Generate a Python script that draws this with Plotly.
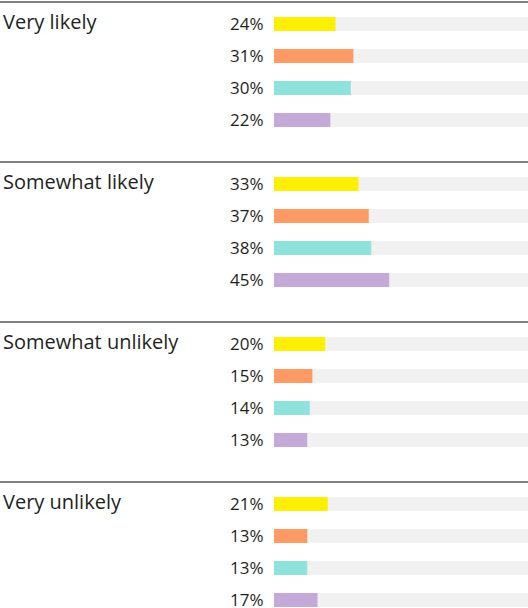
import plotly.graph_objects as go

categories = ["Very likely", "Somewhat likely", "Somewhat unlikely", "Very unlikely"]
series_names = ["Group 1", "Group 2", "Group 3", "Group 4"]
series_values = [
    [24, 33, 20, 21],   # yellow
    [31, 37, 15, 13],   # orange
    [30, 38, 14, 13],   # teal
    [22, 45, 13, 17],   # purple
]
series_colors = ["#FFF000", "#FF9966", "#8FE3DC", "#C4AAD9"]
track_color = "#F0F1F0"
text_color = "#1F1F1F"
font_family = "Open Sans, Noto Sans, sans-serif"

n_series = len(series_values)
group_step = n_series + 1

fig = go.Figure()

# background tracks
track_y = [g * group_step + i for g in range(len(categories)) for i in range(n_series)]
fig.add_trace(go.Bar(
    x=[100] * len(track_y), y=track_y, orientation="h", base=0,
    marker=dict(color=track_color, line=dict(width=0)), width=0.44,
    hoverinfo="skip", showlegend=False,
))

annotations = []
for i, (name, vals, col) in enumerate(zip(series_names, series_values, series_colors)):
    ys = [g * group_step + i for g in range(len(categories))]
    fig.add_trace(go.Bar(
        x=vals, y=ys, orientation="h", base=0, name=name,
        marker=dict(color=col, line=dict(width=0)), width=0.44,
        showlegend=False,
    ))
    for v, y in zip(vals, ys):
        annotations.append(dict(
            x=-3.3, y=y - 0.03, xref="x", yref="y", text=f"{v}%", showarrow=False,
            xanchor="right", yanchor="middle",
            font=dict(size=17, color=text_color, family=font_family),
        ))

shapes = []
for g, cat in enumerate(categories):
    y0 = g * group_step
    annotations.append(dict(
        x=0.002, xref="paper", y=y0 - 0.08, yref="y", text=cat, showarrow=False,
        xanchor="left", yanchor="middle",
        font=dict(size=20, color=text_color, family=font_family),
    ))
    shapes.append(dict(
        type="line", xref="paper", x0=0, x1=1, yref="y",
        y0=y0 - 0.69, y1=y0 - 0.69, line=dict(color="#555555", width=1.5),
    ))

fig.update_layout(
    width=528, height=608,
    margin=dict(l=0, r=0, t=0, b=0),
    paper_bgcolor="white", plot_bgcolor="white",
    barmode="overlay",
    xaxis=dict(range=[-107.03, 99.22], visible=False, fixedrange=True),
    yaxis=dict(range=[18.25, -0.75], visible=False, fixedrange=True),
    annotations=annotations, shapes=shapes,
)

fig.write_html(
    "out.html",
    config={"displayModeBar": False},
    post_script="document.body.style.margin='0';document.body.style.padding='0';",
)
